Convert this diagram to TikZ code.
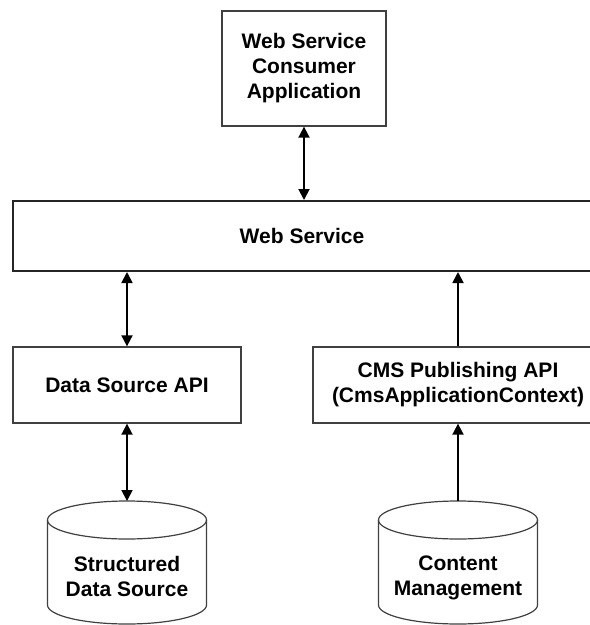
\documentclass[tikz,border=0pt]{standalone}
\usepackage{fontspec}
\setmainfont{Liberation Sans}
\usetikzlibrary{arrows.meta}
\begin{document}
\begin{tikzpicture}[x=1pt,y=-1pt,
  label font/.style={font=\fontsize{21}{25}\selectfont\bfseries, align=center},
  box/.style={draw=black!75, line width=1.3pt, fill=white, label font, inner sep=0pt},
  wide box/.style={box, draw=black!85, line width=2pt},
  dbtext/.style={label font, inner sep=0pt},
  link/.style={line width=1.8pt, black},
  one way/.style={link, -{Triangle[length=11pt,width=11pt]}},
  two way/.style={link, {Triangle[length=11pt,width=11pt]}-{Triangle[length=11pt,width=11pt]}},
  dbcyl/.pic={
    \draw[line width=1.2pt, draw=black!75, fill=white]
      (-79.5,19) -- (-79.5,104)
      arc[start angle=180, end angle=360, x radius=79.5pt, y radius=19pt]
      -- (79.5,19);
    \draw[line width=1.2pt, draw=black!75] (0,19) ellipse [x radius=79.5pt, y radius=19pt];
  },
]
\clip (0,0) rectangle (590,625);
\fill[white] (0,0) rectangle (590,625);

% boxes
\node[box, minimum width=164pt, minimum height=115pt] (consumer) at (304,68.5)
  {Web Service\\Consumer\\Application};
\node[wide box, minimum width=578pt, minimum height=70pt] (ws) at (302,236) {Web Service};
\node[box, minimum width=228pt, minimum height=76pt] (dsapi) at (127,385) {Data Source API};
\node[box, minimum width=290pt, minimum height=76pt] (cms) at (458,385)
  {CMS Publishing API\\(CmsApplicationContext)};

% data stores
\pic at (127,501) {dbcyl};
\coordinate (sdstop) at (127,501);
\node[dbtext] (sds) at (127,576) {Structured\\Data Source};
\pic at (458,501) {dbcyl};
\coordinate (cmtop) at (458,501);
\node[dbtext] (cm) at (458,578) {Content\\Management};

% connectors
\draw[two way] (consumer.south) -- (consumer.south |- ws.north);
\draw[two way] (dsapi.north) -- (dsapi.north |- ws.south);
\draw[one way] (cms.north) -- (cms.north |- ws.south);
\draw[two way] (dsapi.south) -- (sdstop);
\draw[one way] (cmtop) -- (cms.south);
\end{tikzpicture}
\end{document}
